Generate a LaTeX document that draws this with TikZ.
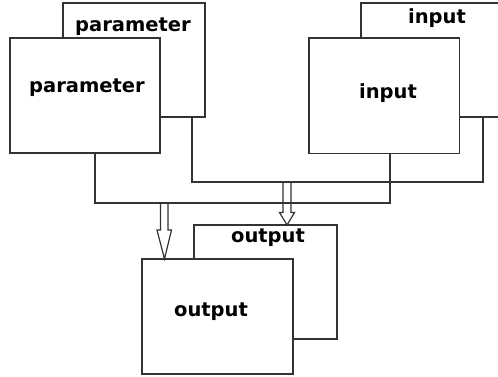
\documentclass[tikz,border=0pt]{standalone}
\usepackage{fontspec}
\setmainfont{DejaVu Sans}
\begin{document}
\begin{tikzpicture}[x=1pt,y=-1pt,
  ln/.style={draw=black!80,line width=1.2pt},
  box/.style={ln,fill=white,rectangle,inner sep=0pt,outer sep=0pt},
  lbl/.style={font=\bfseries\fontsize{19.5}{21}\selectfont,text=black,inner sep=0pt}]
\useasboundingbox (0,0) rectangle (498,377);
\begin{scope}
\clip (0,0) rectangle (498,377);
% back boxes
\node[box,minimum width=142pt,minimum height=114pt,anchor=north west] (pb) at (63,3) {};
\node[box,minimum width=160pt,minimum height=114pt,anchor=north west] (ib) at (361,3) {};
\node[lbl] (pbt) at (133,27) {parameter};
\node[lbl] (ibt) at (437,18) {input};
% connectors
\coordinate (pbo) at (192,117);
\coordinate (ibo) at (483,117);
\draw[ln] (pbo) |- (287,182) coordinate (j2) -| (ibo);
% front boxes
\node[box,minimum width=150pt,minimum height=115pt,anchor=north west] (pf) at (10,38) {};
\node[lbl] (pft) at (87,88) {parameter};
\node[box,minimum width=150.5pt,minimum height=115.5pt,anchor=north west] (if) at (309,38) {};
\node[lbl] (ift) at (388,93) {input};
\coordinate (pfo) at (95,153);
\coordinate (ifo) at (390,153);
\draw[ln] (pfo) |- (164.5,203) coordinate (j1) -| (ifo);
% output boxes
\node[box,minimum width=143pt,minimum height=114pt,anchor=north west] (ob) at (194,225) {};
\node[lbl] (obt) at (268,238) {output};
\node[box,minimum width=151pt,minimum height=115pt,anchor=north west] (of) at (142,259) {};
\node[lbl] (oft) at (211,312) {output};
% hollow arrows
\draw[ln,line join=miter] ([xshift=-4pt]j1) -- ([xshift=-4pt]j1 |- 0,230) -- ([xshift=-7.5pt]j1 |- 0,230) -- (of.north -| j1) -- ([xshift=7pt]j1 |- 0,230) -- ([xshift=3.5pt]j1 |- 0,230) -- ([xshift=3.5pt]j1);
\draw[ln,line join=miter] ([xshift=-4pt]j2) -- ([xshift=-4pt]j2 |- 0,212.5) -- ([xshift=-7.5pt]j2 |- 0,212.5) -- (ob.north -| j2) -- ([xshift=7.5pt]j2 |- 0,212.5) -- ([xshift=4pt]j2 |- 0,212.5) -- ([xshift=4pt]j2);
\end{scope}
\end{tikzpicture}
\end{document}
